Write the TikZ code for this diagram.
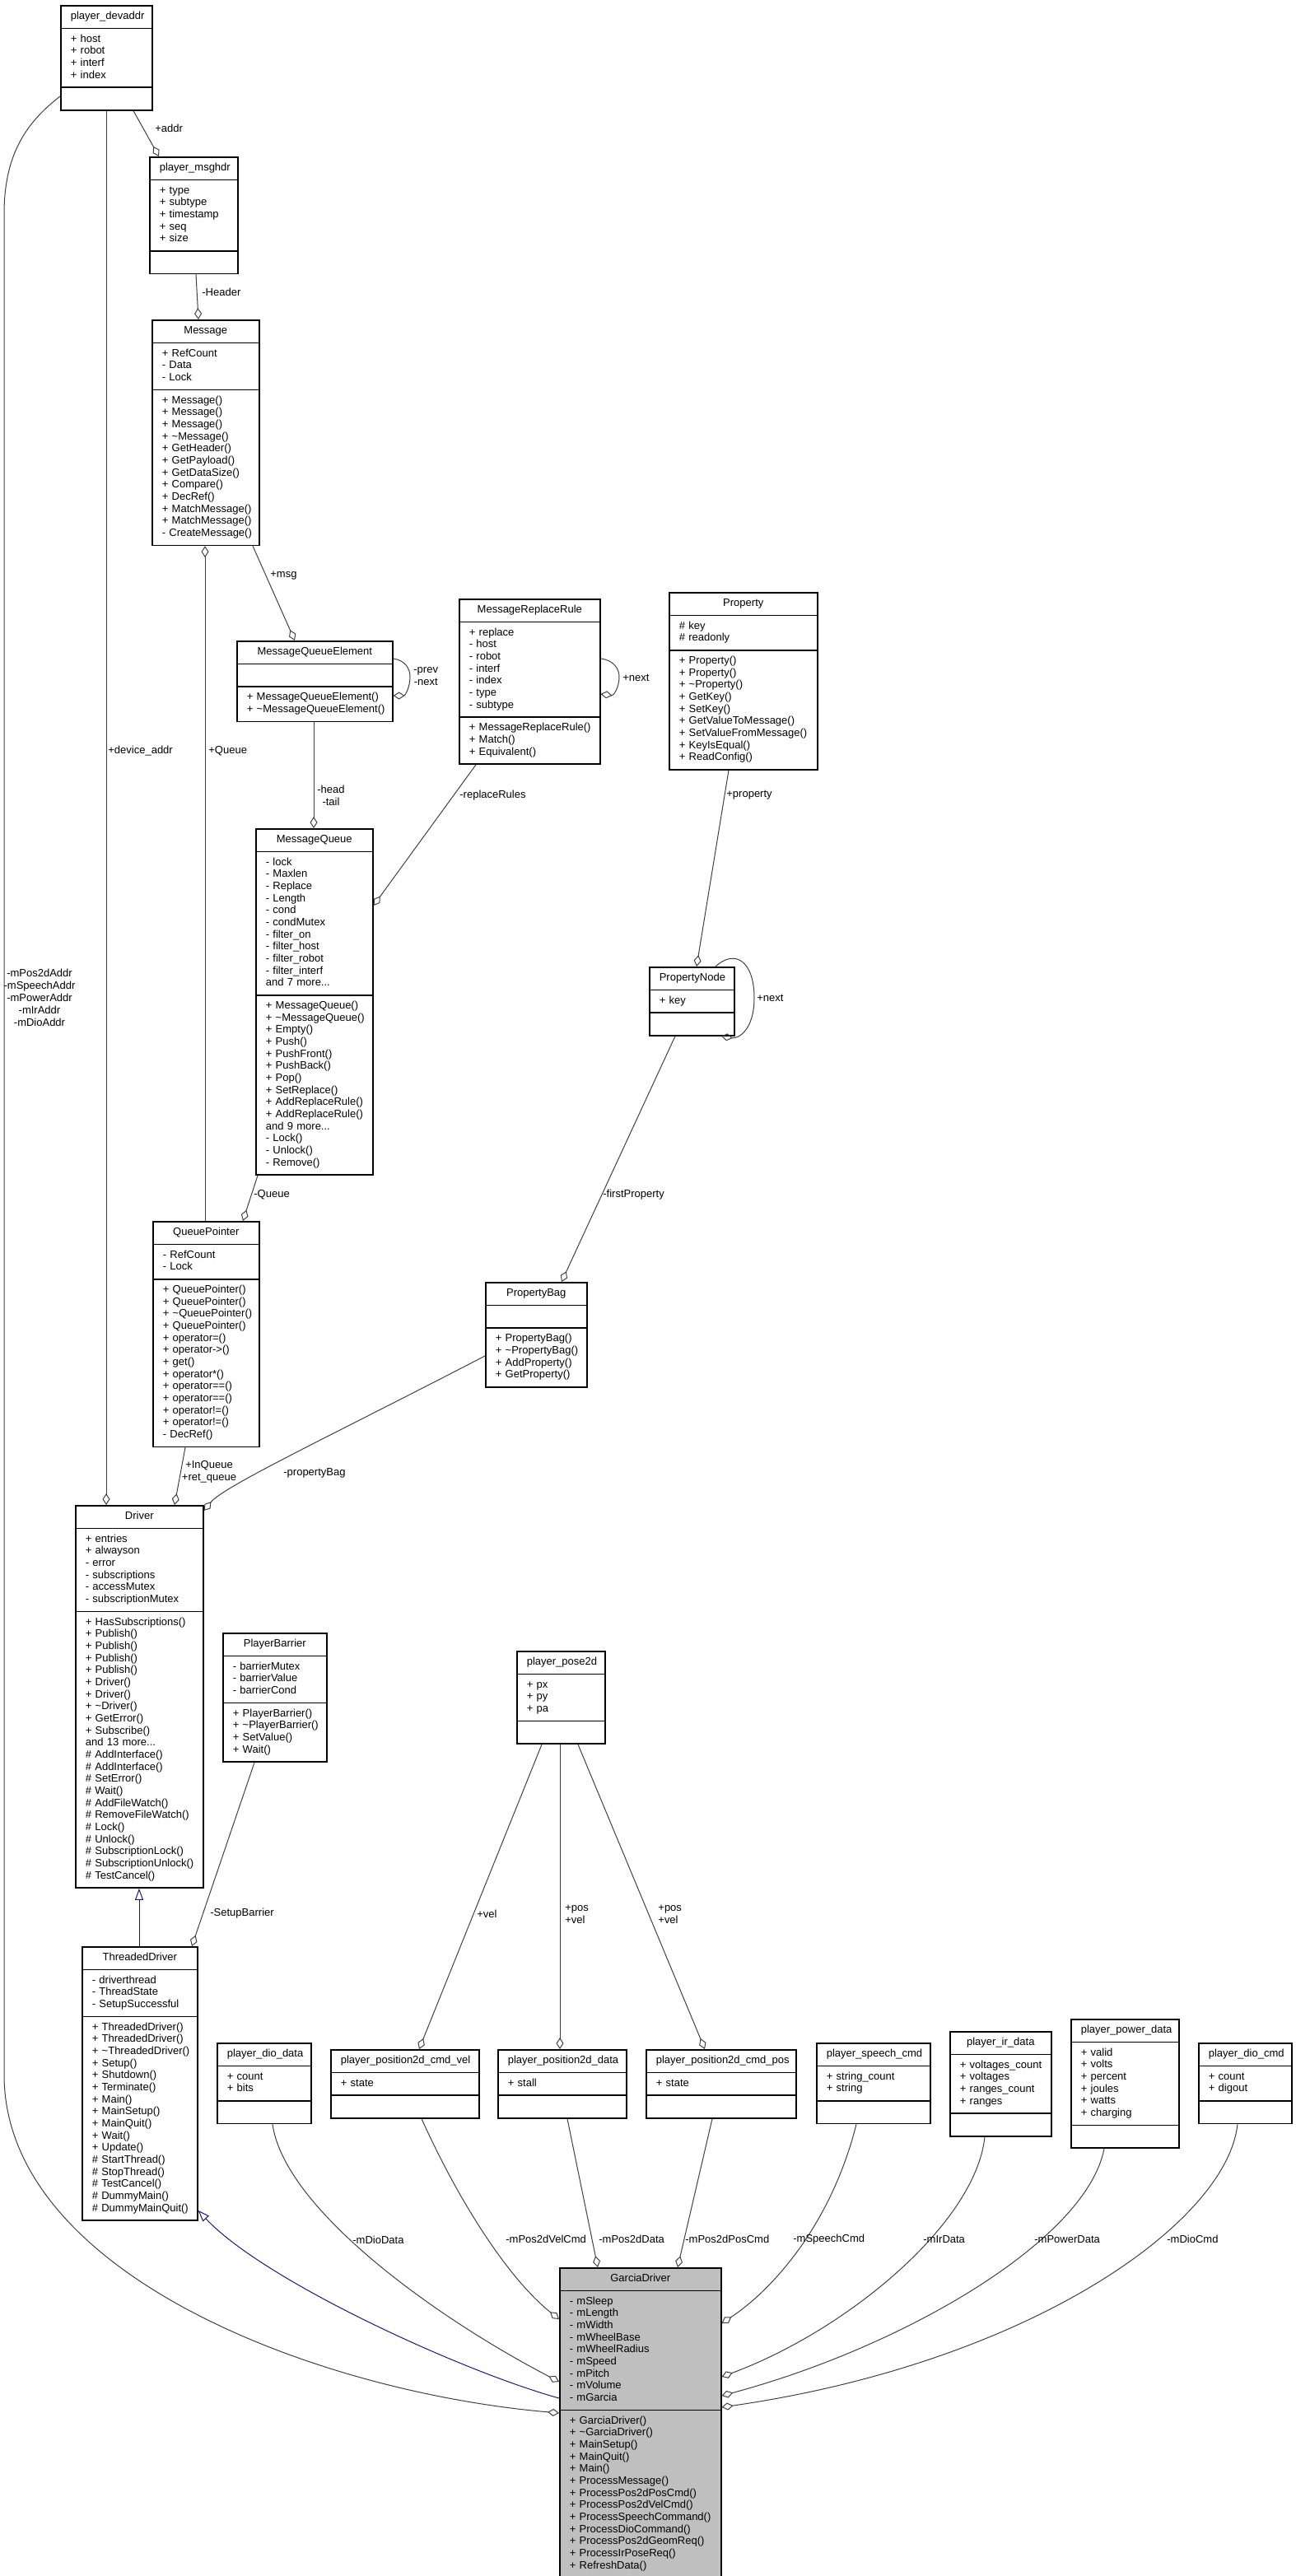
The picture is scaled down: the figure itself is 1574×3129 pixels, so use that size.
\documentclass[tikz,border=0pt]{standalone}
\usepackage{fontspec}
\setmainfont{Liberation Sans}
\usepackage{tikz}
\usetikzlibrary{shapes.multipart, arrows.meta, calc}
\definecolor{darkline}{HTML}{404040}
\definecolor{navyline}{HTML}{191970}
\newcommand{\nobreaklines}{\hyphenpenalty=10000\relax\exhyphenpenalty=10000\relax\parindent=0pt\relax}
\newcommand{\classparts}[3]{\nobreaklines\centering\strut#1\strut\par\nodepart{two}\nobreaklines\raggedright\strut#2\strut\par\nodepart{three}\nobreaklines\raggedright\strut#3\strut\par}
\newcommand{\dtor}{\textasciitilde}
\tikzset{
	classnode/.style={
			rectangle split,
			rectangle split parts=3,
			draw=black,
			line width=0.8pt,
			fill=white,
			anchor=north west,
			inner xsep=6pt,
			inner ysep=2.85pt,
			font=\fontsize{6.5}{7.33}\selectfont
		},
	mainnode/.style={
			classnode,
			fill=gray!50
		},
	assoc/.style={
			draw=darkline,
			line width=0.5pt,
			-{Diamond[open,length=7pt,width=4.5pt]}
		},
	inherit/.style={
			draw=navyline,
			line width=0.5pt,
			-{Triangle[open,length=7pt,width=5pt]}
		},
	edgelabel/.style={
			anchor=west,
			inner sep=0pt,
			font=\fontsize{6.5}{7.5}\selectfont
		}
}
\begin{document}
\begin{tikzpicture}[x=0.5pt, y=-0.5pt]
\useasboundingbox (0,0) rectangle (1574,3129);

% classes
\node[classnode, text width=43.5pt] (devaddr) at (73,6) {\classparts{player\_devaddr}{+~host\\+~robot\\+~interf\\+~index}{}};
\node[classnode, text width=41.5pt] (msghdr) at (181,190) {\classparts{player\_msghdr}{+~type\\+~subtype\\+~timestamp\\+~seq\\+~size}{}};
\node[classnode, text width=53pt] (message) at (184,388) {\classparts{Message}{+~RefCount\\-~Data\\-~Lock}{+~Message()\\+~Message()\\+~Message()\\+~\dtor Message()\\+~GetHeader()\\+~GetPayload()\\+~GetDataSize()\\+~Compare()\\+~DecRef()\\+~MatchMessage()\\+~MatchMessage()\\\mbox{-~CreateMessage()}}};
\node[classnode, text width=82.5pt] (mqe) at (287,778) {\classparts{MessageQueueElement}{}{+~MessageQueueElement()\\+~\dtor MessageQueueElement()}};
\node[classnode, text width=73.5pt] (mrr) at (557,727) {\classparts{MessageReplaceRule}{+~replace\\-~host\\-~robot\\-~interf\\-~index\\-~type\\-~subtype}{+~MessageReplaceRule()\\+~Match()\\+~Equivalent()}};
\node[classnode, text width=78pt] (property) at (812,719) {\classparts{Property}{\#~key\\\#~readonly}{+~Property()\\+~Property()\\+~\dtor Property()\\+~GetKey()\\+~SetKey()\\+~GetValueToMessage()\\+~SetValueFromMessage()\\+~KeyIsEqual()\\+~ReadConfig()}};
\node[classnode, text width=59pt] (mq) at (310,1006) {\classparts{MessageQueue}{-~lock\\-~Maxlen\\-~Replace\\-~Length\\-~cond\\-~condMutex\\-~filter\_on\\-~filter\_host\\-~filter\_robot\\-~filter\_interf\\and~7~more...}{+~MessageQueue()\\+~\dtor MessageQueue()\\+~Empty()\\+~Push()\\+~PushFront()\\+~PushBack()\\+~Pop()\\+~SetReplace()\\+~AddReplaceRule()\\+~AddReplaceRule()\\and~9~more...\\-~Lock()\\-~Unlock()\\-~Remove()}};
\node[classnode, text width=39.5pt] (pnode) at (788,1174) {\classparts{PropertyNode}{+~key}{}};
\node[classnode, text width=52.5pt] (qptr) at (185,1483) {\classparts{QueuePointer}{-~RefCount\\-~Lock}{+~QueuePointer()\\+~QueuePointer()\\+~\dtor QueuePointer()\\+~QueuePointer()\\+~operator=()\\+~operator->()\\+~get()\\+~operator*()\\+~operator==()\\+~operator==()\\+~operator!=()\\+~operator!=()\\-~DecRef()}};
\node[classnode, text width=49.5pt] (pbag) at (589,1557) {\classparts{PropertyBag}{}{+~PropertyBag()\\+~\dtor PropertyBag()\\+~AddProperty()\\+~GetProperty()}};
\node[classnode, text width=65.5pt] (driver) at (91,1828) {\classparts{Driver}{+~entries\\+~alwayson\\-~error\\-~subscriptions\\-~accessMutex\\-~subscriptionMutex}{+~HasSubscriptions()\\+~Publish()\\+~Publish()\\+~Publish()\\+~Publish()\\+~Driver()\\+~Driver()\\+~\dtor Driver()\\+~GetError()\\+~Subscribe()\\and~13~more...\\\#~AddInterface()\\\#~AddInterface()\\\#~SetError()\\\#~Wait()\\\#~AddFileWatch()\\\#~RemoveFileWatch()\\\#~Lock()\\\#~Unlock()\\\#~SubscriptionLock()\\\#~SubscriptionUnlock()\\\#~TestCancel()}};
\node[classnode, text width=51pt] (barrier) at (270,1983) {\classparts{PlayerBarrier}{-~barrierMutex\\-~barrierValue\\-~barrierCond}{+~PlayerBarrier()\\+~\dtor PlayerBarrier()\\+~SetValue()\\+~Wait()}};
\node[classnode, text width=41.5pt] (pose) at (627,2005) {\classparts{player\_pose2d}{+~px\\+~py\\+~pa}{}};
\node[classnode, text width=58pt] (tdriver) at (99,2364) {\classparts{ThreadedDriver}{-~driverthread\\-~ThreadState\\-~SetupSuccessful}{+~ThreadedDriver()\\+~ThreadedDriver()\\+~\dtor ThreadedDriver()\\+~Setup()\\+~Shutdown()\\+~Terminate()\\+~Main()\\+~MainSetup()\\+~MainQuit()\\+~Wait()\\+~Update()\\\#~StartThread()\\\#~StopThread()\\\#~TestCancel()\\\#~DummyMain()\\\#~DummyMainQuit()}};
\node[classnode, text width=45pt] (diodata) at (263,2481) {\classparts{player\_dio\_data}{+~count\\+~bits}{}};
\node[classnode, text width=78pt] (cmdvel) at (401,2489) {\classparts{player\_position2d\_cmd\_vel}{+~state}{}};
\node[classnode, text width=66pt] (posdata) at (604,2489) {\classparts{player\_position2d\_data}{+~stall}{}};
\node[classnode, text width=79pt] (cmdpos) at (784,2489) {\classparts{player\_position2d\_cmd\_pos}{+~state}{}};
\node[classnode, text width=57pt] (speech) at (991,2481) {\classparts{player\_speech\_cmd}{+~string\_count\\+~string}{}};
\node[classnode, text width=49.5pt] (irdata) at (1153,2467) {\classparts{player\_ir\_data}{+~voltages\_count\\+~voltages\\+~ranges\_count\\+~ranges}{}};
\node[classnode, text width=53.5pt] (power) at (1300,2452) {\classparts{player\_power\_data}{+~valid\\+~volts\\+~percent\\+~joules\\+~watts\\+~charging}{}};
\node[classnode, text width=44.5pt] (diocmd) at (1455,2481) {\classparts{player\_dio\_cmd}{+~count\\+~digout}{}};
\node[mainnode, text width=86pt] (garcia) at (679,2754) {\classparts{GarciaDriver}{-~mSleep\\-~mLength\\-~mWidth\\-~mWheelBase\\-~mWheelRadius\\-~mSpeed\\-~mPitch\\-~mVolume\\-~mGarcia}{+~GarciaDriver()\\+~\dtor GarciaDriver()\\+~MainSetup()\\+~MainQuit()\\+~Main()\\+~ProcessMessage()\\+~ProcessPos2dPosCmd()\\+~ProcessPos2dVelCmd()\\+~ProcessSpeechCommand()\\+~ProcessDioCommand()\\+~ProcessPos2dGeomReq()\\+~ProcessIrPoseReq()\\+~RefreshData()}};

% associations, top part
\draw[assoc] ($(devaddr.south west)+(89,0)$) -- ($(msghdr.north west)+(12,0)$);
\draw[assoc] ($(msghdr.south west)+(57,0)$) -- ($(message.north west)+(57,0)$);
\draw[assoc] ($(message.south west)+(123,0)$) -- ($(mqe.north west)+(71,0)$);
\draw[assoc] ($(mqe.north east)+(0,22)$) .. controls (492,802) and (498,812) .. (498,822) .. controls (498,835) and (492,845) .. ($(mqe.north east)+(0,67)$);
\draw[assoc] ($(mqe.south west)+(94,0)$) -- ($(mq.north west)+(71,0)$);
\draw[assoc] ($(mrr.north east)+(0,73)$) .. controls (746,802) and (752,813) .. (752,822) .. controls (752,834) and (746,845) .. ($(mrr.north east)+(0,116)$);
\draw[assoc] ($(mrr.south west)+(21,0)$) -- ($(mq.north east)+(0,94)$);
\draw[assoc] ($(property.south west)+(73,0)$) -- ($(pnode.north west)+(58,0)$);
\draw[assoc] ($(pnode.north west)+(81,0)$) .. controls (893,1152) and (916,1168) .. (916,1212) .. controls (916,1252) and (896,1262) .. ($(pnode.south west)+(88,0)$);
\draw[assoc] ($(pnode.south west)+(32,0)$) -- ($(pbag.north west)+(93,0)$);
\draw[assoc] ($(mq.south west)+(3,0)$) -- ($(qptr.north west)+(110,0)$);
\draw[assoc] ($(qptr.north west)+(64,0)$) -- ($(message.south west)+(65,0)$);
\draw[assoc] ($(devaddr.south west)+(56,0)$) -- ($(driver.north west)+(38,0)$);
\draw[assoc] ($(qptr.south west)+(40,0)$) -- ($(driver.north west)+(121,0)$);
\draw[assoc] ($(pbag.north west)+(0,90)$) .. controls (400,1745) and (272,1805) .. ($(driver.north east)+(0,7)$);
\draw[assoc] ($(barrier.south west)+(39,0)$) -- ($(tdriver.north west)+(134,0)$);
\draw[inherit] ($(tdriver.north west)+(70,0)$) -- ($(driver.south west)+(78,0)$);

% player_pose2d members
\draw[assoc] ($(pose.south west)+(31,0)$) -- ($(cmdvel.north west)+(108,0)$);
\draw[assoc] ($(pose.south west)+(53,0)$) -- ($(posdata.north west)+(76,0)$);
\draw[assoc] ($(pose.south west)+(75,0)$) -- ($(cmdpos.north west)+(72,0)$);

% GarciaDriver members
\draw[assoc] ($(devaddr.north west)+(0,111)$) .. controls (30,150) and (5,190) .. (5,260) -- (5,2520) .. controls (5,2760) and (380,2905) .. ($(garcia.north west)+(0,177)$);
\draw[inherit] ($(garcia.north west)+(0,159)$) .. controls (560,2880) and (320,2770) .. ($(tdriver.south east)+(0,-13)$);
\draw[assoc] ($(diodata.south west)+(68,0)$) .. controls (345,2680) and (520,2810) .. ($(garcia.north west)+(0,139)$);
\draw[assoc] ($(cmdvel.south west)+(111,0)$) .. controls (560,2680) and (620,2770) .. ($(garcia.north west)+(0,63)$);
\draw[assoc] ($(posdata.south west)+(85,0)$) -- ($(garcia.north west)+(47,0)$);
\draw[assoc] ($(cmdpos.south west)+(81,0)$) -- ($(garcia.north west)+(144,0)$);
\draw[assoc] ($(speech.south west)+(49,0)$) .. controls (1010,2700) and (940,2780) .. ($(garcia.north east)+(0,68)$);
\draw[assoc] ($(irdata.south west)+(43,0)$) .. controls (1185,2700) and (1030,2830) .. ($(garcia.north east)+(0,133)$);
\draw[assoc] ($(power.south west)+(41,0)$) .. controls (1320,2720) and (1100,2850) .. ($(garcia.north east)+(0,156)$);
\draw[assoc] ($(diocmd.south west)+(48,0)$) .. controls (1490,2700) and (1250,2870) .. ($(garcia.north east)+(0,170)$);

% labels
\node[edgelabel] (laddr) at (188,156) {+addr};
\node[edgelabel] (lheader) at (245,355) {-Header};
\node[edgelabel] (lmsg) at (328,699) {+msg};
\node[edgelabel, align=center] (lprev) at (502,822) {-prev\\-next};
\node[edgelabel, align=center] (lhead) at (385,966) {-head\\-tail};
\node[edgelabel] (lrnext) at (756,823) {+next};
\node[edgelabel] (lrules) at (558,966) {-replaceRules};
\node[edgelabel] (lprop) at (882,966) {+property};
\node[edgelabel] (lpnext) at (919,1212) {+next};
\node[edgelabel] (lfirst) at (732,1451) {-firstProperty};
\node[edgelabel] (lqueue) at (308,1451) {-Queue};
\node[edgelabel] (lqueue2) at (253,912) {+Queue};
\node[edgelabel] (ldev) at (131,912) {+device\_addr};
\node[edgelabel, align=center, anchor=center] (linq) at (254,1788) {+InQueue\\+ret\_queue};
\node[edgelabel] (lbag) at (344,1789) {-propertyBag};
\node[edgelabel] (lbarrier) at (255,2324) {-SetupBarrier};
\node[edgelabel] (lvel) at (579,2325) {+vel};
\node[edgelabel, align=left] (lpv1) at (686,2325) {+pos\\+vel};
\node[edgelabel, align=left] (lpv2) at (799,2325) {+pos\\+vel};
\node[edgelabel, align=center, anchor=center] (laddrs) at (48,1212) {-mPos2dAddr\\-mSpeechAddr\\-mPowerAddr\\-mIrAddr\\-mDioAddr};
\node[edgelabel] (ldiodata) at (428,2721) {-mDioData};
\node[edgelabel] (lvelcmd) at (614,2720) {-mPos2dVelCmd};
\node[edgelabel] (lposdata) at (727,2720) {-mPos2dData};
\node[edgelabel] (lposcmd) at (832,2720) {-mPos2dPosCmd};
\node[edgelabel] (lspeech) at (963,2720) {-mSpeechCmd};
\node[edgelabel] (lir) at (1121,2720) {-mIrData};
\node[edgelabel] (lpower) at (1256,2720) {-mPowerData};
\node[edgelabel] (ldiocmd) at (1417,2720) {-mDioCmd};
\end{tikzpicture}
\end{document}
